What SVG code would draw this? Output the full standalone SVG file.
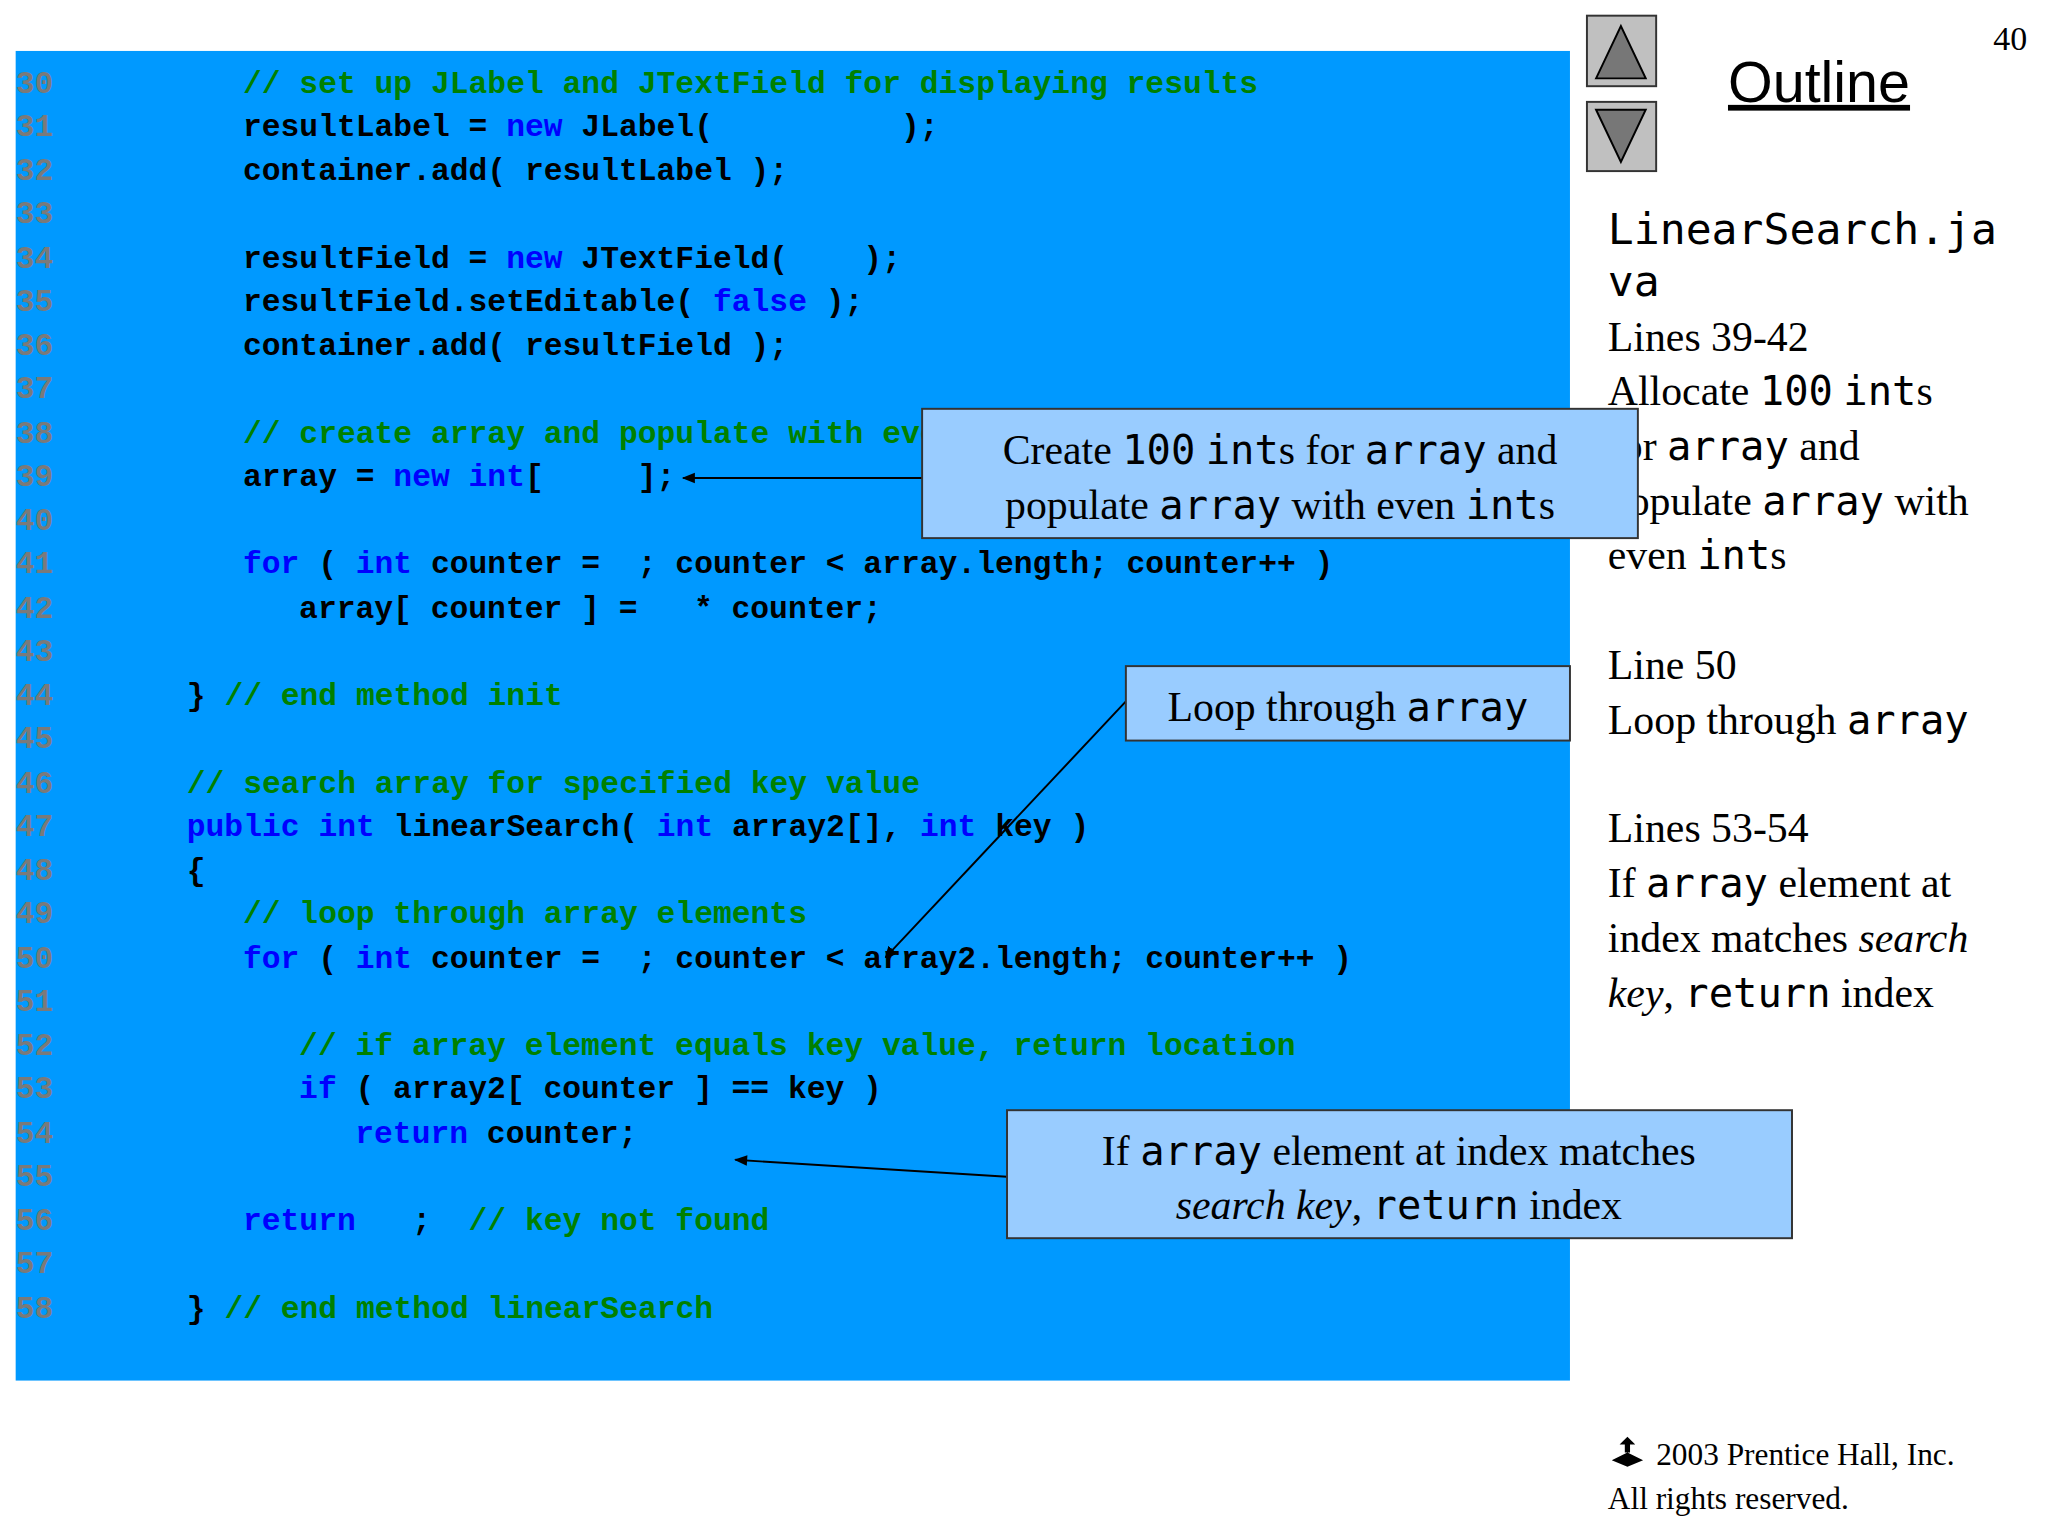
<svg xmlns="http://www.w3.org/2000/svg" width="2048" height="1536" viewBox="0 0 2048 1536">
<style>
.code text{font-family:"Liberation Mono","DejaVu Sans Mono",monospace;font-weight:bold;font-size:24px;fill:#000;white-space:pre}
.code .n{fill:#7a7a7a}.code .k{fill:#0000ff}.code .c{fill:#008000}
.t{font-family:"Liberation Serif","DejaVu Serif",serif;font-size:32px;fill:#000;white-space:pre}
.m{font-family:"DejaVu Sans Mono","Liberation Mono",monospace;font-size:31px}
.box{fill:#99ccff;stroke:#333;stroke-width:1.5}
.ln{stroke:#000;stroke-width:1.5;fill:none}
</style>
<defs><marker id="ah" viewBox="0 0 10 10" refX="9" refY="5" markerWidth="9" markerHeight="9" orient="auto" markerUnits="userSpaceOnUse"><path d="M0,0L10,5L0,10z" fill="#000"/></marker>
<marker id="ah2" viewBox="0 0 10 10" refX="9" refY="5" markerWidth="14" markerHeight="10" orient="auto" markerUnits="userSpaceOnUse"><path d="M0,1L10,5L0,9z" fill="#000"/></marker></defs>
<g transform="scale(1.30612)">
<rect x="12" y="39" width="1190" height="1018" fill="#0099ff"/>
<g id="code" class="code">
<text x="12" y="71" class="n">30</text><text x="186" y="71" class="c">// set up JLabel and JTextField for displaying results</text>
<text x="12" y="104" class="n">31</text><text x="186" y="104">resultLabel = <tspan class="k">new</tspan> JLabel(          );</text>
<text x="12" y="138" class="n">32</text><text x="186" y="138">container.add( resultLabel );</text>
<text x="12" y="171" class="n">33</text>
<text x="12" y="205" class="n">34</text><text x="186" y="205">resultField = <tspan class="k">new</tspan> JTextField(    );</text>
<text x="12" y="238" class="n">35</text><text x="186" y="238">resultField.setEditable( <tspan class="k">false</tspan> );</text>
<text x="12" y="272" class="n">36</text><text x="186" y="272">container.add( resultField );</text>
<text x="12" y="305" class="n">37</text>
<text x="12" y="339" class="n">38</text><text x="186" y="339" class="c">// create array and populate with even integers</text>
<text x="12" y="372" class="n">39</text><text x="186" y="372">array = <tspan class="k">new</tspan> <tspan class="k">int</tspan>[     ];</text>
<text x="12" y="406" class="n">40</text>
<text x="12" y="439" class="n">41</text><text x="186" y="439"><tspan class="k">for</tspan> ( <tspan class="k">int</tspan> counter =  ; counter &lt; array.length; counter++ )</text>
<text x="12" y="473" class="n">42</text><text x="229" y="473">array[ counter ] =   * counter;</text>
<text x="12" y="506" class="n">43</text>
<text x="12" y="540" class="n">44</text><text x="143" y="540">} <tspan class="c">// end method init</tspan></text>
<text x="12" y="573" class="n">45</text>
<text x="12" y="607" class="n">46</text><text x="143" y="607" class="c">// search array for specified key value</text>
<text x="12" y="640" class="n">47</text><text x="143" y="640"><tspan class="k">public</tspan> <tspan class="k">int</tspan> linearSearch( <tspan class="k">int</tspan> array2[], <tspan class="k">int</tspan> key )</text>
<text x="12" y="674" class="n">48</text><text x="143" y="674">{</text>
<text x="12" y="707" class="n">49</text><text x="186" y="707" class="c">// loop through array elements</text>
<text x="12" y="741" class="n">50</text><text x="186" y="741"><tspan class="k">for</tspan> ( <tspan class="k">int</tspan> counter =  ; counter &lt; array2.length; counter++ )</text>
<text x="12" y="774" class="n">51</text>
<text x="12" y="808" class="n">52</text><text x="229" y="808" class="c">// if array element equals key value, return location</text>
<text x="12" y="841" class="n">53</text><text x="229" y="841"><tspan class="k">if</tspan> ( array2[ counter ] == key )</text>
<text x="12" y="875" class="n">54</text><text x="272" y="875"><tspan class="k">return</tspan> counter;</text>
<text x="12" y="908" class="n">55</text>
<text x="12" y="942" class="n">56</text><text x="186" y="942"><tspan class="k">return</tspan>   ;  <tspan class="c">// key not found</tspan></text>
<text x="12" y="975" class="n">57</text>
<text x="12" y="1009" class="n">58</text><text x="143" y="1009">} <tspan class="c">// end method linearSearch</tspan></text>
</g>
<g id="side" class="t">
<text x="1231" y="187" class="m" style="font-size:33px">LinearSearch.ja</text>
<text x="1231" y="227" class="m" style="font-size:33px">va</text>
<text x="1231" y="269">Lines 39-42</text>
<text x="1231" y="310">Allocate <tspan class="m">100</tspan> <tspan class="m">int</tspan>s</text>
<text x="1231" y="352">for <tspan class="m">array</tspan> and</text>
<text x="1231" y="394">populate <tspan class="m">array</tspan> with</text>
<text x="1231" y="436">even <tspan class="m">int</tspan>s</text>
<text x="1231" y="520">Line 50</text>
<text x="1231" y="562">Loop through <tspan class="m">array</tspan></text>
<text x="1231" y="645">Lines 53-54</text>
<text x="1231" y="687">If <tspan class="m">array</tspan> element at</text>
<text x="1231" y="729">index matches <tspan font-style="italic">search</tspan></text>
<text x="1231" y="771"><tspan font-style="italic">key</tspan>, <tspan class="m">return</tspan> index</text>
</g>
<g id="nav">
<rect x="1215" y="12" width="53" height="54" fill="#c0c0c0" stroke="#333" stroke-width="1.5"/>
<path d="M1222,60L1241,20L1260,60z" fill="#777" stroke="#000" stroke-width="1.5"/>
<rect x="1215" y="78" width="53" height="53" fill="#c0c0c0" stroke="#333" stroke-width="1.5"/>
<path d="M1222,84L1241,124L1260,84z" fill="#777" stroke="#000" stroke-width="1.5"/>
<text x="1323" y="78" font-family="'Liberation Sans',Arial,sans-serif" font-size="44" text-decoration="underline">Outline</text>
<text x="1552" y="38" text-anchor="end" font-family="'Liberation Serif',serif" font-size="26">40</text>
</g>
<g id="connectors">
<line class="ln" x1="706" y1="366" x2="523" y2="366" marker-end="url(#ah2)"/>
<line class="ln" x1="862" y1="537" x2="678" y2="733" marker-end="url(#ah)"/>
<line class="ln" x1="771" y1="901" x2="563" y2="888" marker-end="url(#ah2)"/>
</g>
<g id="callout1"><rect class="box" x="706" y="313" width="548" height="99"/>
<text class="t" x="980" y="355" text-anchor="middle">Create <tspan class="m">100</tspan> <tspan class="m">int</tspan>s for <tspan class="m">array</tspan> and</text>
<text class="t" x="980" y="397" text-anchor="middle">populate <tspan class="m">array</tspan> with even <tspan class="m">int</tspan>s</text></g>
<g id="callout2"><rect class="box" x="862" y="510" width="340" height="57"/>
<text class="t" x="1032" y="552" text-anchor="middle">Loop through <tspan class="m">array</tspan></text></g>
<g id="callout3"><rect class="box" x="771" y="850" width="601" height="98"/>
<text class="t" x="1071" y="892" text-anchor="middle">If <tspan class="m">array</tspan> element at index matches</text>
<text class="t" x="1071" y="933" text-anchor="middle"><tspan font-style="italic">search key</tspan>, <tspan class="m">return</tspan> index</text></g>
<g id="footer" font-family="'Liberation Serif',serif" font-size="24">
<path d="M1234,1118l12,-6l12,6l-12,5z M1240,1106l6,-6l6,6h-4v6h-4v-6z" fill="#000"/>
<text x="1268" y="1122">2003 Prentice Hall, Inc.</text>
<text x="1231" y="1155">All rights reserved.</text>
</g>
</g>
</svg>
